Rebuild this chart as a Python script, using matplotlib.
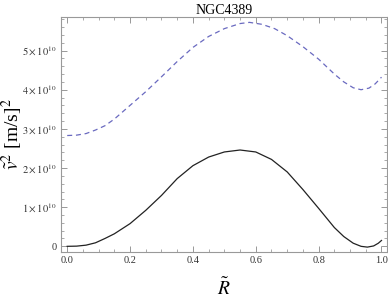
import matplotlib
matplotlib.use("Agg")
import matplotlib.pyplot as plt
from matplotlib.ticker import MultipleLocator, FuncFormatter

plt.rcParams['font.family'] = ['Liberation Serif', 'DejaVu Serif']
plt.rcParams['mathtext.fontset'] = 'stix'

title = "NGC4389"
# radius (normalised) and squared velocities (units of 1e10 (m/s)^2)
r_dashed = [0, 0.03, 0.06, 0.09, 0.12, 0.15, 0.2, 0.25, 0.3, 0.35, 0.4, 0.45,
            0.5, 0.55, 0.58, 0.62, 0.66, 0.7, 0.75, 0.8, 0.85, 0.88, 0.91,
            0.935, 0.96, 0.98, 1.0]
v_dashed = [2.83, 2.84, 2.88, 2.97, 3.08, 3.25, 3.6, 3.95, 4.33, 4.72, 5.08, 5.36,
            5.56, 5.69, 5.72, 5.67, 5.56, 5.38, 5.1, 4.78, 4.4, 4.2, 4.05,
            4.0, 4.04, 4.15, 4.32]
r_solid = [0, 0.03, 0.06, 0.09, 0.12, 0.15, 0.2, 0.25, 0.3, 0.35, 0.4, 0.45,
           0.5, 0.55, 0.6, 0.65, 0.7, 0.75, 0.8, 0.85, 0.88, 0.91, 0.935,
           0.955, 0.975, 0.99, 1.0]
v_solid = [0, 0.005, 0.03, 0.09, 0.2, 0.32, 0.58, 0.92, 1.3, 1.73, 2.06, 2.28,
           2.41, 2.46, 2.41, 2.22, 1.9, 1.45, 0.97, 0.48, 0.25, 0.08, 0.0,
           -0.02, 0.01, 0.08, 0.15]
scale = 1e10

fig = plt.figure(figsize=(3.88, 2.98), dpi=100)
ax = fig.add_axes([0.157, 0.155, 0.840, 0.787])

ax.plot(r_solid, [v * scale for v in v_solid], color='#222222', lw=0.9)
ax.plot(r_dashed, [v * scale for v in v_dashed], color='#6a6ac0', lw=0.9,
        dashes=(4, 3))

ax.set_xlim(-0.02, 1.017)
ax.set_ylim(-0.14e10, 5.85e10)

ax.xaxis.set_major_locator(MultipleLocator(0.2))
ax.xaxis.set_minor_locator(MultipleLocator(0.05))
ax.yaxis.set_major_locator(MultipleLocator(1e10))
ax.yaxis.set_minor_locator(MultipleLocator(0.2e10))

def yfmt(val, pos):
    n = int(round(val / 1e10))
    if n == 0:
        return "0"
    return r'$%d\times10^{10}$' % n

ax.yaxis.set_major_formatter(FuncFormatter(yfmt))
ax.xaxis.set_major_formatter(FuncFormatter(lambda v, p: "%.1f" % v))

ax.tick_params(which='both', direction='in', top=True, right=True,
               colors='#888888', labelcolor='#333333', labelsize=7.5)
ax.tick_params(which='major', length=4, width=0.6, pad=3)
ax.tick_params(which='minor', length=2, width=0.5)
for s in ax.spines.values():
    s.set_color('#999999')
    s.set_linewidth(0.8)

ax.set_title(title, fontsize=10, pad=2)
ax.set_ylabel(r'$\tilde{v}^2$ [m/s]$^2$', fontsize=14)
ax.yaxis.set_label_coords(-0.11, 0.5)
ax.set_xlabel(r'$\tilde{R}$', fontsize=14)
ax.xaxis.set_label_coords(0.5, -0.11)

fig.savefig('out.png', dpi=100)
